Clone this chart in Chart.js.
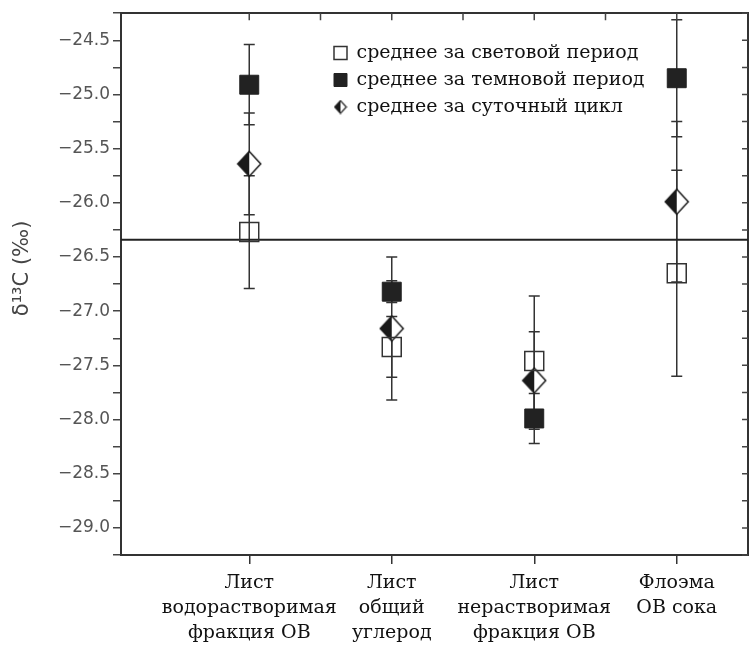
<!DOCTYPE html>
<html>
<head>
<meta charset="utf-8">
<script src="https://cdn.jsdelivr.net/npm/chart.js@4.4.1/dist/chart.umd.min.js"></script>
<style>
  html, body { margin: 0; padding: 0; background: #fff; }
</style>
</head>
<body>
<canvas id="chart" width="749" height="645"></canvas>
<script>
const categories = [
  ['Лист', 'водорастворимая', 'фракция ОВ'],
  ['Лист', 'общий', 'углерод'],
  ['Лист', 'нерастворимая', 'фракция ОВ'],
  ['Флоэма', 'ОВ сока']
];
const seriesNames = ['среднее за световой период', 'среднее за темновой период', 'среднее за суточный цикл'];

// mean values and error half-widths, per category
const lightMean = [-26.27, -27.33, -27.46, -26.65];
const lightErr = [0.52, 0.28, 0.60, 0.95];
const darkMean = [-24.91, -26.82, -27.99, -24.85];
const darkErr = [0.37, 0.10, 0.23, 0.54];
const dailyMean = [-25.64, -27.16, -27.64, -25.99];
const dailyErr = [0.47, 0.66, 0.45, 0.74];

const referenceLevel = -26.34;
const yLabelled = [-24.5, -25.0, -25.5, -26.0, -26.5, -27.0, -27.5, -28.0, -28.5, -29.0];
const topTicks = [1, 1.5, 2, 2.5, 3, 3.5, 4];
const yMin = -29.25, yMax = -24.25;
const xMin = 0.1, xMax = 4.5;

const canvasCtx = document.querySelector('#chart').getContext('2d');

function halfDiamond(w, h, lw) {
    const c = document.createElement('canvas');
    c.width = w;
    c.height = h;
    const g = c.getContext('2d');
    const cx = w / 2, cy = h / 2, rx = w / 2 - lw, ry = h / 2 - lw;
    const outline = () => {
        g.beginPath();
        g.moveTo(cx, cy - ry); g.lineTo(cx + rx, cy); g.lineTo(cx, cy + ry); g.lineTo(cx - rx, cy);
        g.closePath();
    };
    outline();
    g.fillStyle = '#fff';
    g.fill();
    g.beginPath();
    g.moveTo(cx, cy - ry); g.lineTo(cx, cy + ry); g.lineTo(cx - rx, cy);
    g.closePath();
    g.fillStyle = '#1a1a1a';
    g.fill();
    outline();
    g.lineWidth = lw;
    g.strokeStyle = '#1a1a1a';
    g.stroke();
    return c;
}

const diamondBig = halfDiamond(26, 28, 1.5);
const diamondSmall = halfDiamond(14, 15, 1.2);

const toPoints = (arr) => arr.map((v, i) => ({ x: i + 1, y: v }));

const errorBars = {
    id: 'errorBars',
    beforeDatasetsDraw(chart) {
        const ctx = chart.ctx;
        const yScale = chart.scales.y;
        ctx.save();
        ctx.strokeStyle = '#333';
        ctx.lineWidth = 1.5;
        chart.data.datasets.forEach((ds, i) => {
            if (!ds.errors) return;
            const meta = chart.getDatasetMeta(i);
            meta.data.forEach((pt, j) => {
                const top = yScale.getPixelForValue(ds.data[j].y + ds.errors[j]);
                const bot = yScale.getPixelForValue(ds.data[j].y - ds.errors[j]);
                ctx.beginPath();
                ctx.moveTo(pt.x, top); ctx.lineTo(pt.x, bot);
                ctx.moveTo(pt.x - 5.5, top); ctx.lineTo(pt.x + 5.5, top);
                ctx.moveTo(pt.x - 5.5, bot); ctx.lineTo(pt.x + 5.5, bot);
                ctx.stroke();
            });
        });
        ctx.restore();
    }
};

// tick marks of the top and right frame point inwards
const innerTicks = {
    id: 'innerTicks',
    afterDraw(chart) {
        const ctx = chart.ctx;
        const area = chart.chartArea;
        const top = chart.scales.xTop, right = chart.scales.yRight;
        ctx.save();
        ctx.strokeStyle = '#444';
        ctx.lineWidth = 1.5;
        ctx.beginPath();
        top.ticks.forEach(t => {
            const x = top.getPixelForValue(t.value);
            ctx.moveTo(x, area.top); ctx.lineTo(x, area.top + 7);
        });
        right.ticks.forEach(t => {
            const y = right.getPixelForValue(t.value);
            ctx.moveTo(area.right, y); ctx.lineTo(area.right - 6, y);
        });
        ctx.stroke();
        ctx.restore();
    }
};

// put the legend box inside the plot, top right
const legendPlace = {
    id: 'legendPlace',
    afterLayout(chart) {
        const lg = chart.legend;
        if (!lg) return;
        const w = lg.width, h = lg.height;
        lg.left = 326;
        lg.top = 35.5;
        lg.right = lg.left + w;
        lg.bottom = lg.top + h;
    }
};

const isLabelled = (v) => yLabelled.some(t => Math.abs(t - v) < 1e-6);

const myChart = new Chart(canvasCtx, {
    type: 'scatter',
    data: {
        datasets: [
            {
                label: seriesNames[0],
                data: toPoints(lightMean),
                errors: lightErr,
                pointStyle: 'rect',
                pointRadius: 13.4,
                backgroundColor: 'rgba(255,255,255,0)',
                borderColor: '#333',
                borderWidth: 1.5,
            },
            {
                label: seriesNames[1],
                data: toPoints(darkMean),
                errors: darkErr,
                pointStyle: 'rect',
                pointRadius: 13.4,
                backgroundColor: '#222',
                borderColor: '#222',
                borderWidth: 1,
            },
            {
                label: seriesNames[2],
                data: toPoints(dailyMean),
                errors: dailyErr,
                pointStyle: diamondBig,
                pointRadius: 13,
                backgroundColor: '#1a1a1a',
                borderColor: '#1a1a1a',
                borderWidth: 1.5,
            },
            {
                type: 'line',
                label: 'reference',
                data: [{ x: xMin, y: referenceLevel }, { x: xMax, y: referenceLevel }],
                borderColor: '#222',
                borderWidth: 2,
                pointRadius: 0,
            }
        ]
    },
    options: {
        responsive: false,
        animation: false,
        devicePixelRatio: 1,
        layout: { autoPadding: false, padding: { top: 13, right: 1, left: 0, bottom: 0 } },
        plugins: {
            tooltip: { enabled: false },
            legend: {
                position: 'chartArea',
                align: 'start',
                labels: {
                    usePointStyle: true,
                    boxWidth: 13,
                    boxHeight: 13,
                    padding: 8,
                    color: '#111',
                    font: { family: 'DejaVu Serif', size: 19 },
                    generateLabels(chart) {
                        const items = Chart.defaults.plugins.legend.labels.generateLabels(chart);
                        return items.filter(it => it.datasetIndex < 3).map(it => {
                            if (it.datasetIndex === 2) it.pointStyle = diamondSmall;
                            return it;
                        });
                    }
                }
            }
        },
        scales: {
            x: {
                type: 'linear',
                position: 'bottom',
                min: xMin,
                max: xMax,
                afterBuildTicks: (s) => { s.ticks = categories.map((c, i) => ({ value: i + 1 })); },
                afterFit: (s) => { s.height = 90; },
                ticks: {
                    autoSkip: false,
                    maxRotation: 0,
                    padding: 7,
                    color: '#111',
                    font: { family: 'DejaVu Serif', size: 19, lineHeight: 1.3 },
                    callback: (v, i) => categories[i]
                },
                grid: { drawOnChartArea: false, tickLength: 9, color: '#333', lineWidth: 1.5 },
                border: { color: '#333', width: 2 }
            },
            xTop: {
                type: 'linear',
                position: 'top',
                min: xMin,
                max: xMax,
                afterBuildTicks: (s) => { s.ticks = topTicks.map(v => ({ value: v })); },
                afterFit: (s) => { s.height = 0; },
                ticks: { display: false },
                grid: { drawOnChartArea: false, drawTicks: false },
                border: { color: '#333', width: 2 }
            },
            y: {
                type: 'linear',
                position: 'left',
                min: yMin,
                max: yMax,
                afterFit: (s) => { s.width = 121; },
                ticks: {
                    stepSize: 0.25,
                    padding: 3,
                    color: '#555',
                    font: { family: 'DejaVu Sans', size: 17 },
                    callback: (v) => isLabelled(v) ? v.toFixed(1).replace('-', '\u2212') : ''
                },
                grid: { drawOnChartArea: false, tickLength: 8, color: '#444', lineWidth: 1.5 },
                border: { color: '#333', width: 2 },
                title: {
                    display: true,
                    text: '\u2002\u2002\u2002δ¹³C (‰)',
                    color: '#444',
                    font: { family: 'DejaVu Sans', size: 21 },
                    padding: { top: 10, bottom: 0 }
                }
            },
            yRight: {
                type: 'linear',
                position: 'right',
                min: yMin,
                max: yMax,
                afterFit: (s) => { s.width = 0; },
                ticks: { display: false, stepSize: 0.25 },
                grid: { drawOnChartArea: false, drawTicks: false },
                border: { color: '#333', width: 2 }
            }
        }
    },
    plugins: [errorBars, innerTicks, legendPlace]
});
</script>
</body>
</html>
